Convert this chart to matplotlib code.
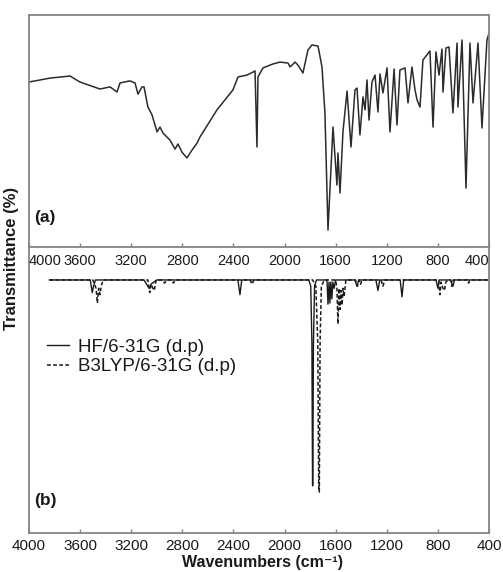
import matplotlib
matplotlib.use("Agg")
import matplotlib.pyplot as plt

plt.rcParams['font.family'] = ['Liberation Sans', 'DejaVu Sans']

# ---------------- data ----------------
# (a) experimental FT-IR spectrum (wavenumber cm-1, transmittance, arbitrary %)
exp_wn = [4000, 3836, 3679, 3601, 3444, 3366, 3311, 3288, 3210, 3170, 3147, 3116, 3100,
          3069, 3037, 2998, 2975, 2951, 2897, 2857, 2834, 2803, 2764, 2724, 2685, 2662,
          2529, 2404, 2364, 2294, 2247, 2231, 2216, 2208, 2169, 2090, 2036, 1973, 1957,
          1918, 1895, 1856, 1817, 1785, 1738, 1707, 1684, 1660, 1621, 1590, 1582, 1566,
          1543, 1511, 1480, 1449, 1433, 1410, 1386, 1370, 1355, 1339, 1316, 1292, 1269,
          1253, 1230, 1198, 1175, 1143, 1120, 1097, 1057, 1034, 1003, 979, 963, 940, 917,
          862, 838, 815, 791, 768, 760, 737, 713, 682, 650, 643, 611, 580, 549, 525, 486,
          455, 416, 400]
exp_t = [71.1, 72.8, 73.7, 71.1, 68.1, 69.0, 66.8, 70.7, 71.6, 70.7, 65.9, 69.0, 69.0,
         60.3, 56.9, 49.6, 51.7, 49.1, 46.1, 42.2, 44.4, 40.9, 38.4, 41.8, 44.8, 47.4,
         59.1, 67.7, 73.3, 74.1, 75.4, 75.9, 43.1, 73.3, 77.2, 78.9, 79.7, 79.3, 77.6,
         79.7, 78.4, 75.0, 84.9, 87.1, 86.6, 77.6, 57.8, 7.3, 51.7, 26.7, 40.5, 23.3,
         49.6, 67.2, 43.1, 67.7, 68.5, 48.3, 64.7, 59.1, 72.0, 54.7, 71.1, 74.1, 58.2,
         74.6, 66.4, 77.2, 49.6, 76.7, 52.6, 76.3, 77.2, 62.1, 77.6, 67.7, 63.4, 60.3, 80.6,
         84.5, 51.7, 84.1, 74.1, 85.3, 66.8, 85.8, 86.2, 57.8, 87.9, 60.3, 89.2, 25.4, 87.9,
         62.1, 87.9, 51.3, 89.2, 92.2]

# (b) computed spectra
hf_wn = [3840, 3520, 3505, 3495, 3480, 3100, 3060, 3045, 3000, 2365, 2349, 2335,
         1810, 1795, 1786, 1781, 1779, 1774, 1765, 1750, 1700, 1668, 1660, 1652, 1645,
         1638, 1630, 1622, 1612, 1600, 1450, 1433, 1420, 1285, 1269, 1255, 1095, 1081,
         1068, 815, 800, 790, 700, 682, 670, 400]
hf_t = [100, 100, 94, 97, 100, 100, 96, 98, 100, 100, 93, 100,
        100, 97, 70, 2, 2, 70, 97, 100, 100, 100, 88.5, 99, 89,
        99, 91, 99, 96, 100, 100, 97, 100, 100, 95, 100, 100, 92,
        100, 100, 96, 100, 100, 97, 100, 100]

b3_wn = [3840, 3500, 3475, 3465, 3455, 3445, 3435, 3420, 3100, 3070, 3055, 3045, 3030,
         3020, 3005, 2960, 2940, 2920, 2885, 2870, 2855, 2270, 2255, 2240, 1780, 1755,
         1740, 1733, 1728, 1722, 1712, 1700, 1690, 1640, 1600, 1590, 1582, 1574, 1565,
         1558, 1550, 1542, 1534, 1520, 1445, 1430, 1415, 1405, 1395, 1245, 1230, 1215,
         810, 795, 784, 775, 760, 748, 738, 720, 700, 690, 680, 570, 560, 550, 400]
b3_t = [100, 100, 96, 89, 96, 93, 97, 100, 100, 100, 94, 98, 96,
        95, 100, 100, 98.5, 100, 100, 98.5, 100, 100, 98, 100, 100, 97,
        70, 2, -1, 70, 97, 98.5, 100, 100, 100, 96, 79, 96, 86,
        95, 88, 96, 92, 100, 100, 97, 100, 98, 100, 100, 97, 100,
        100, 100, 93, 99, 96, 95, 99, 100, 100, 97, 100, 100, 98.5, 100, 100]

ticks = [4000, 3600, 3200, 2800, 2400, 2000, 1600, 1200, 800, 400]
labels_hf = "HF/6-31G (d.p)"
labels_b3 = "B3LYP/6-31G (d.p)"

# ---------------- figure ----------------
W, H = 503, 572
fig = plt.figure(figsize=(W / 100, H / 100), dpi=100)
L, R = 29, 489
ax_a = fig.add_axes([L / W, (H - 247) / H, (R - L) / W, (247 - 15) / H])
ax_b = fig.add_axes([L / W, (H - 533) / H, (R - L) / W, (533 - 247) / H])
ax_b.patch.set_visible(False)
ax_a.set_zorder(2)
ax_a.patch.set_visible(False)

frame_col = '#858585'
text_col = '#1a1a1a'

for ax in (ax_a, ax_b):
    ax.set_xlim(4000, 400)
    ax.set_xticks(ticks)
    ax.set_xticklabels([str(t) for t in ticks])
    ax.set_yticks([])
    for s in ax.spines.values():
        s.set_color(frame_col)
        s.set_linewidth(1.3)
    ax.tick_params(axis='x', direction='in', length=3, width=1, color=frame_col,
                   labelcolor=text_col)

ax_a.tick_params(axis='x', pad=5, labelsize=10.5)
ax_b.tick_params(axis='x', pad=4, labelsize=11)
ax_b.spines['top'].set_visible(False)

# edge labels of top panel shifted inside
tl = ax_a.get_xticklabels()
tl[0].set_ha('left')
tl[-1].set_ha('right')

ax_a.plot(exp_wn, exp_t, color='#2b2b2b', lw=1.1)
ax_a.set_ylim(0, 100)

ax_b.plot(hf_wn, hf_t, color='#1a1a1a', lw=1.0, label=labels_hf)
ax_b.plot(b3_wn, b3_t, color='#1a1a1a', lw=1.1, linestyle=(0, (2.5, 1.5)), label=labels_b3)
ax_b.set_ylim(-20.5, 115.7)

ax_a.text(0.012, 0.125, '(a)', transform=ax_a.transAxes, fontsize=12.5,
          fontweight='bold', color=text_col, va='center', ha='left')
ax_b.text(0.012, 0.115, '(b)', transform=ax_b.transAxes, fontsize=12.5,
          fontweight='bold', color=text_col, va='center', ha='left')

leg = ax_b.legend(loc='upper left', bbox_to_anchor=(0.022, 0.705), frameon=False,
                  fontsize=13.5, handlelength=1.2, handletextpad=0.45,
                  labelspacing=0.12, borderaxespad=0)
for t in leg.get_texts():
    t.set_color(text_col)

fig.text(12 / W, 1 - 258 / H, 'Transmittance (%)', rotation=90, ha='center',
         va='center', fontsize=12, fontweight='bold', color=text_col)
fig.text(263 / W, 1 - 563 / H, 'Wavenumbers (cm\u207b\u00b9)', ha='center', va='center',
         fontsize=11.5, fontweight='bold', color=text_col,
         family=['Liberation Sans', 'DejaVu Sans'])

fig.savefig('out.png', dpi=100)
